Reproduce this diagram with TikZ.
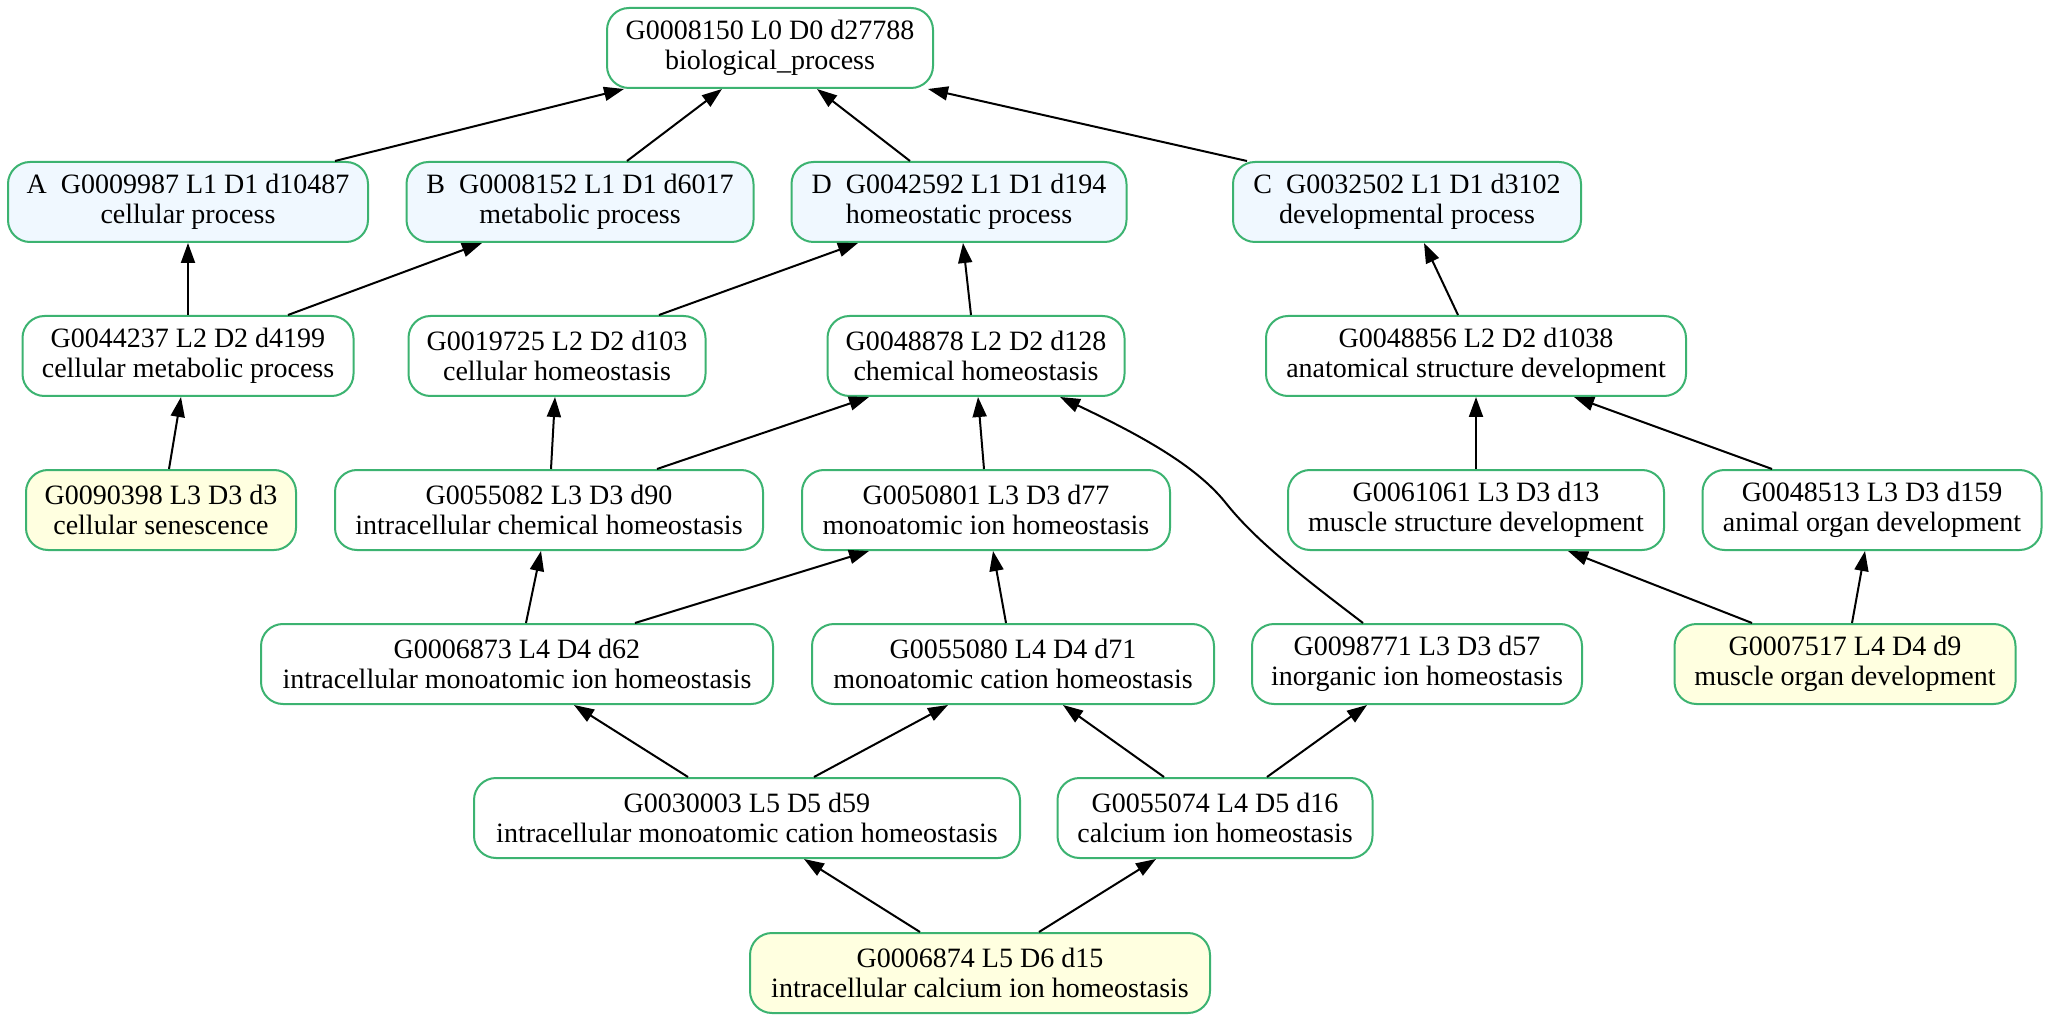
\documentclass[tikz,border=0pt]{standalone}
\usepackage{fontspec}
\setmainfont{Liberation Serif}
\usepackage{tikz}
\usetikzlibrary{positioning,arrows.meta}

\definecolor{termline}{HTML}{3CB371}
\definecolor{topfill}{HTML}{F0F8FF}
\definecolor{leaffill}{HTML}{FFFFE0}

\tikzset{
  term/.style={draw=termline,line width=1pt,rounded corners=11pt,fill=white,
    minimum height=40pt,inner xsep=4pt,align=center,
    font=\fontsize{14pt}{15pt}\selectfont},
  topterm/.style={term,fill=topfill},
  leafterm/.style={term,fill=leaffill},
  isa/.style={-{Triangle[length=10pt,width=7pt]},line width=1pt,black},
}

\begin{document}
\begin{tikzpicture}[x=0.5pt,y=-0.5pt]
		\fill[white] (0,0) rectangle (2050,1021);
		% level 0
		\node[term,minimum width=163pt] (root) at (770,48) {G0008150 L0 D0 d27788\\biological\_process};
		% level 1
		\node[topterm,minimum width=180pt] (nA) at (188,202) {A~~G0009987 L1 D1 d10487\\cellular process};
		\node[topterm,minimum width=173.5pt] (nB) at (580,202) {B~~G0008152 L1 D1 d6017\\metabolic process};
		\node[topterm,minimum width=167.5pt] (nD) at (959,202) {D~~G0042592 L1 D1 d194\\homeostatic process};
		\node[topterm,minimum width=174pt] (nC) at (1407,202) {C~~G0032502 L1 D1 d3102\\developmental process};
		% level 2
		\node[term,minimum width=165.5pt] (n44237) at (188,356) {G0044237 L2 D2 d4199\\cellular metabolic process};
		\node[term,minimum width=148.5pt] (n19725) at (557,356) {G0019725 L2 D2 d103\\cellular homeostasis};
		\node[term,minimum width=148.5pt] (n48878) at (976,356) {G0048878 L2 D2 d128\\chemical homeostasis};
		\node[term,minimum width=210pt] (n48856) at (1476,356) {G0048856 L2 D2 d1038\\anatomical structure development};
		% level 3
		\node[leafterm,minimum width=135pt] (n90398) at (161,510) {G0090398 L3 D3 d3\\cellular senescence};
		\node[term,minimum width=214pt] (n55082) at (549,510) {G0055082 L3 D3 d90\\intracellular chemical homeostasis};
		\node[term,minimum width=184pt] (n50801) at (986,510) {G0050801 L3 D3 d77\\monoatomic ion homeostasis};
		\node[term,minimum width=188pt] (n61061) at (1476,510) {G0061061 L3 D3 d13\\muscle structure development};
		\node[term,minimum width=169.5pt] (n48513) at (1872,510) {G0048513 L3 D3 d159\\animal organ development};
		% level 4
		\node[term,minimum width=256pt] (n06873) at (517,664) {G0006873 L4 D4 d62\\intracellular monoatomic ion homeostasis};
		\node[term,minimum width=201pt] (n55080) at (1013,664) {G0055080 L4 D4 d71\\monoatomic cation homeostasis};
		\node[term,minimum width=165pt] (n98771) at (1417,664) {G0098771 L3 D3 d57\\inorganic ion homeostasis};
		\node[leafterm,minimum width=170.5pt] (n07517) at (1845,664) {G0007517 L4 D4 d9\\muscle organ development};
		% level 5
		\node[term,minimum width=273pt] (n30003) at (747,818) {G0030003 L5 D5 d59\\intracellular monoatomic cation homeostasis};
		\node[term,minimum width=157.5pt] (n55074) at (1215,818) {G0055074 L4 D5 d16\\calcium ion homeostasis};
		% level 6
		\node[leafterm,minimum width=230pt] (n06874) at (980,973) {G0006874 L5 D6 d15\\intracellular calcium ion homeostasis};

		% is_a edges, child -> parent
		\draw[isa] ([xshift=73.5pt]nA.north) -- ([xshift=-73pt]root.south);
		\draw[isa] ([xshift=23.5pt]nB.north) -- ([xshift=-24pt]root.south);
		\draw[isa] ([xshift=-24.5pt]nD.north) -- ([xshift=23.5pt]root.south);
		\draw[isa] ([xshift=-80pt]nC.north) -- ([xshift=79pt]root.south);
		\draw[isa] (n44237.north) -- (nA.south);
		\draw[isa] ([xshift=50pt]n44237.north) -- ([xshift=-49pt]nB.south);
		\draw[isa] ([xshift=51pt]n19725.north) -- ([xshift=-50.5pt]nD.south);
		\draw[isa] ([xshift=-2.5pt]n48878.north) -- ([xshift=2pt]nD.south);
		\draw[isa] ([xshift=-9pt]n48856.north) -- ([xshift=8.5pt]nC.south);
		\draw[isa] ([xshift=4pt]n90398.north) -- ([xshift=-3.5pt]n44237.south);
		\draw[isa] ([xshift=1pt]n55082.north) -- ([xshift=-1pt]n19725.south);
		\draw[isa] ([xshift=54pt]n55082.north) -- ([xshift=-53.5pt]n48878.south);
		\draw[isa] ([xshift=-1pt]n50801.north) -- ([xshift=1pt]n48878.south);
		\draw[isa] ([xshift=-27pt]n98771.north) .. controls (1300,575) and (1255,540) .. (1225,502)
			.. controls (1195,465) and (1140,435) .. ([xshift=42pt]n48878.south);
		\draw[isa] (n61061.north) -- (n48856.south);
		\draw[isa] ([xshift=-50pt]n48513.north) -- ([xshift=49pt]n48856.south);
		\draw[isa] ([xshift=4.5pt]n06873.north) -- ([xshift=-4pt]n55082.south);
		\draw[isa] ([xshift=59pt]n06873.north) -- ([xshift=-58.5pt]n50801.south);
		\draw[isa] ([xshift=-3.5pt]n55080.north) -- ([xshift=3.5pt]n50801.south);
		\draw[isa] ([xshift=-46.5pt]n07517.north) -- ([xshift=46pt]n61061.south);
		\draw[isa] ([xshift=3.5pt]n07517.north) -- ([xshift=-3.5pt]n48513.south);
		\draw[isa] ([xshift=-29.5pt]n30003.north) -- ([xshift=28.5pt]n06873.south);
		\draw[isa] ([xshift=33.5pt]n30003.north) -- ([xshift=-32.5pt]n55080.south);
		\draw[isa] ([xshift=-25.5pt]n55074.north) -- ([xshift=25pt]n55080.south);
		\draw[isa] ([xshift=26pt]n55074.north) -- ([xshift=-25pt]n98771.south);
		\draw[isa] ([xshift=-30pt]n06874.north) -- ([xshift=28.5pt]n30003.south);
		\draw[isa] ([xshift=29.5pt]n06874.north) -- ([xshift=-29.5pt]n55074.south);
\end{tikzpicture}
\end{document}
